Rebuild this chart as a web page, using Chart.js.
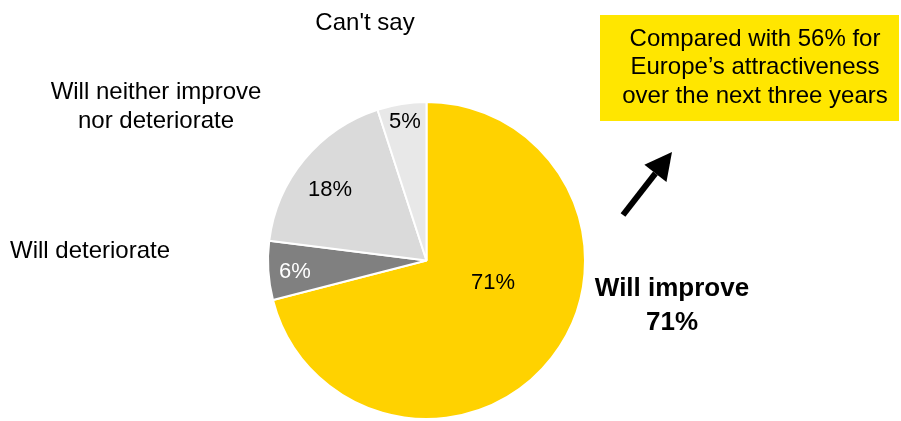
<!DOCTYPE html>
<html lang="en">
<head>
    <meta charset="UTF-8">
    <title>Will improve 71%</title>
    <script src="https://cdn.jsdelivr.net/npm/chart.js"></script>
    <style>
        html, body { margin: 0; padding: 0; background: #fff; }
        #wrap { width: 901px; height: 421px; position: relative; }
    </style>
</head>
<body>
    <div id="wrap"><canvas id="pieChart" width="901" height="421"></canvas></div>

    <script>
        // data
        const categories = ['Will improve', 'Will deteriorate', 'Will neither improve nor deteriorate', "Can't say"];
        const shares = [71, 6, 18, 5];
        const sliceColors = ['#FFD200', '#808080', '#DADADA', '#E8E8E8'];
        const valueLabelColors = ['#000', '#fff', '#000', '#000'];

        const FONT = '"Liberation Sans", Arial, sans-serif';

        // where each text goes (annotations, not data)
        const valueLabelPos = [[493, 283], [295, 272], [330, 190], [405, 122]];
        const categoryText = [
            { lines: ['Will improve', shares[0] + '%'], x: 672, y: 289, gap: 34, bold: true, align: 'center' },
            { lines: ['Will deteriorate'], x: 10, y: 251, gap: 0, align: 'left' },
            { lines: ['Will neither improve', 'nor deteriorate'], x: 156, y: 92, gap: 29, align: 'center' },
            { lines: ["Can't say"], x: 365, y: 23, gap: 0, align: 'center' }
        ];

        const labelsPlugin = {
            id: 'labels',
            afterDraw(chart) {
                const c = chart.ctx;
                c.save();
                c.textBaseline = 'middle';

                // value labels inside slices
                c.font = '22px ' + FONT;
                c.textAlign = 'center';
                shares.forEach((v, i) => {
                    c.fillStyle = valueLabelColors[i];
                    c.fillText(v + '%', valueLabelPos[i][0], valueLabelPos[i][1]);
                });

                // category labels
                categoryText.forEach(t => {
                    c.font = (t.bold ? 'bold 26px ' : '24px ') + FONT;
                    c.textAlign = t.align;
                    c.fillStyle = '#000';
                    t.lines.forEach((ln, k) => c.fillText(ln, t.x, t.y + k * t.gap));
                });

                // yellow call-out box
                c.fillStyle = '#FFE600';
                c.fillRect(600, 15, 299, 106);
                c.fillStyle = '#000';
                c.font = '24px ' + FONT;
                c.textAlign = 'center';
                ['Compared with 56% for', 'Europe\u2019s attractiveness', 'over the next three years']
                    .forEach((ln, k) => c.fillText(ln, 755, 39 + k * 28.5));

                // arrow
                const x0 = 623, y0 = 215, x1 = 672, y1 = 152;
                const ang = Math.atan2(y1 - y0, x1 - x0);
                const hl = 27, hw = 14;
                const bx = x1 - hl * Math.cos(ang), by = y1 - hl * Math.sin(ang);
                c.strokeStyle = '#000';
                c.lineWidth = 6;
                c.beginPath();
                c.moveTo(x0, y0);
                c.lineTo(bx, by);
                c.stroke();
                c.beginPath();
                c.moveTo(x1, y1);
                c.lineTo(bx + hw * Math.sin(ang), by - hw * Math.cos(ang));
                c.lineTo(bx - hw * Math.sin(ang), by + hw * Math.cos(ang));
                c.closePath();
                c.fill();

                c.restore();
            }
        };

        const ctx = document.getElementById('pieChart').getContext('2d');
        new Chart(ctx, {
            type: 'pie',
            data: {
                labels: categories,
                datasets: [{
                    data: shares,
                    backgroundColor: sliceColors,
                    borderColor: '#fff',
                    borderWidth: 2
                }]
            },
            options: {
                responsive: false,
                animation: false,
                layout: { padding: { top: 101, bottom: 1, left: 267, right: 315 } },
                plugins: {
                    legend: { display: false },
                    tooltip: { enabled: false }
                }
            },
            plugins: [labelsPlugin]
        });
    </script>
</body>
</html>
